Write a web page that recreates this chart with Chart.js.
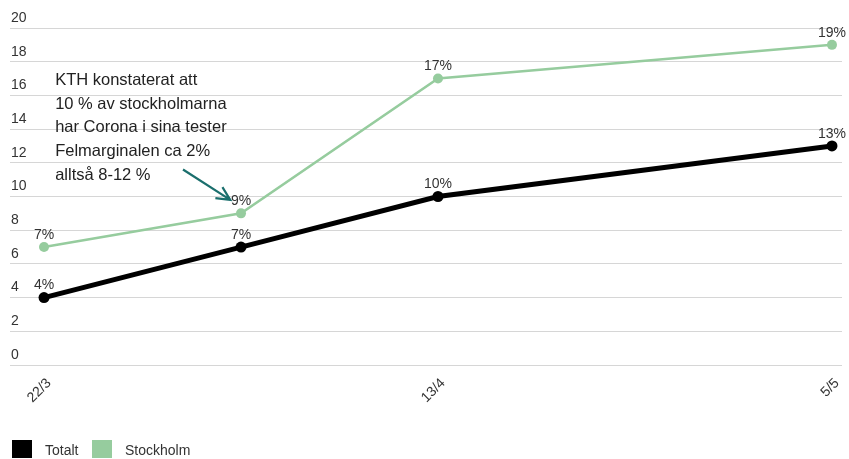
<!DOCTYPE html>
<html>
<head>
<meta charset="utf-8">
<script src="https://cdn.jsdelivr.net/npm/chart.js@4"></script>
<style>
  html, body { margin: 0; padding: 0; background: #fff; }
  #wrap { position: relative; width: 849px; height: 459px; overflow: hidden; }
  #legend { position: absolute; left: 12px; top: 440px; font: 14px "Liberation Sans", Arial, sans-serif; color: #333; }
  .item { position: absolute; top: 0; white-space: nowrap; }
  .box { position: absolute; top: 0; width: 20px; height: 18px; }
  .lab { position: absolute; top: 1px; line-height: 18px; }
</style>
</head>
<body>
<div id="wrap">
  <canvas id="c" width="849" height="459"></canvas>
  <div id="legend"></div>
</div>
<script>
// ---- data ----
const categories = ['22/3', '2/4', '13/4', '5/5'];
const dayOffsets = [0, 11, 22, 44];          // days after 22/3
const totalt = [4, 7, 10, 13];
const stockholm = [7, 9, 17, 19];
const tickDays = [0, 22, 44];
const tickLabels = ['22/3', '13/4', '5/5'];
const seriesNames = ['Totalt', 'Stockholm'];
const seriesColors = ['#000000', '#96cc9e'];
const noteLines = [
  'KTH konstaterat att',
  '10 % av stockholmarna',
  'har Corona i sina tester',
  'Felmarginalen ca 2%',
  'alltså 8-12 %'
];

const FONT = '"Liberation Sans", Arial, sans-serif';

function pts(vals) { return vals.map((v, i) => ({ x: dayOffsets[i], y: v })); }

const labelPlugin = {
  id: 'labels',
  afterDatasetsDraw(chart) {
    const ctx = chart.ctx;
    const xs = chart.scales.x, ys = chart.scales.y;
    ctx.save();
    ctx.font = '14px ' + FONT;
    ctx.fillStyle = '#333';
    ctx.textAlign = 'center';
    ctx.textBaseline = 'bottom';
    chart.data.datasets.forEach((ds, di) => {
      chart.getDatasetMeta(di).data.forEach((el, i) => {
        ctx.fillText(ds.data[i].y + '%', el.x, el.y - 5);
      });
    });
    // annotation text (anchored in data coordinates)
    ctx.textAlign = 'left';
    ctx.textBaseline = 'alphabetic';
    ctx.fillStyle = '#222';
    ctx.font = '16.5px ' + FONT;
    const tx = xs.getPixelForValue(0.62);
    const ty = ys.getPixelForValue(16.62);
    noteLines.forEach((t, i) => ctx.fillText(t, tx, ty + i * 23.75));
    // arrow
    const x1 = xs.getPixelForValue(7.76), y1 = ys.getPixelForValue(11.6);
    const x2 = xs.getPixelForValue(10.4), y2 = ys.getPixelForValue(9.8);
    ctx.strokeStyle = '#1b6f6d';
    ctx.lineWidth = 2.2;
    ctx.beginPath();
    ctx.moveTo(x1, y1); ctx.lineTo(x2, y2);
    const ang = Math.atan2(y2 - y1, x2 - x1);
    const L = 15, w = 0.45;
    ctx.moveTo(x2 - L * Math.cos(ang - w), y2 - L * Math.sin(ang - w));
    ctx.lineTo(x2, y2);
    ctx.lineTo(x2 - L * Math.cos(ang + w), y2 - L * Math.sin(ang + w));
    ctx.stroke();
    ctx.restore();
  }
};

new Chart(document.getElementById('c'), {
  type: 'line',
  data: {
    datasets: [
      {
        label: seriesNames[0], data: pts(totalt),
        borderColor: seriesColors[0], backgroundColor: seriesColors[0],
        borderWidth: 5, pointRadius: 5.5, pointHoverRadius: 5.5, pointBorderWidth: 0,
        tension: 0
      },
      {
        label: seriesNames[1], data: pts(stockholm),
        borderColor: seriesColors[1], backgroundColor: seriesColors[1],
        borderWidth: 2.5, pointRadius: 5, pointHoverRadius: 5, pointBorderWidth: 0,
        tension: 0
      }
    ]
  },
  options: {
    responsive: false,
    animation: false,
    layout: { padding: { left: 10, right: 7, top: 28, bottom: 54 } },
    plugins: { legend: { display: false }, tooltip: { enabled: false } },
    scales: {
      x: {
        type: 'linear', min: -1.9, max: 44.56,
        afterBuildTicks(s) { s.ticks = tickDays.map(v => ({ value: v })); },
        afterFit(s) { s.height = 40; },
        grid: { display: false }, border: { display: false },
        ticks: {
          minRotation: 45, maxRotation: 45, padding: 2, labelOffset: 5, autoSkip: false,
          color: '#333', font: { family: FONT, size: 14 },
          callback: v => { const i = tickDays.indexOf(v); return i >= 0 ? tickLabels[i] : ''; }
        }
      },
      y: {
        min: 0, max: 20,
        afterFit(s) { s.width = 0; },
        grid: { color: '#d6d6d6', lineWidth: 1, drawTicks: false },
        border: { display: false },
        ticks: {
          stepSize: 2, mirror: true, padding: 1, labelOffset: -10,
          color: '#333', font: { family: FONT, size: 14 }
        }
      }
    }
  },
  plugins: [labelPlugin]
});

// legend
const lg = document.getElementById('legend');
const legendX = [0, 80];
seriesNames.forEach((n, i) => {
  const it = document.createElement('div');
  it.className = 'item';
  it.style.left = legendX[i] + 'px';
  it.innerHTML = '<span class="box" style="background:' + seriesColors[i] + '"></span><span class="lab" style="left:33px">' + n + '</span>';
  lg.appendChild(it);
});
</script>
</body>
</html>
